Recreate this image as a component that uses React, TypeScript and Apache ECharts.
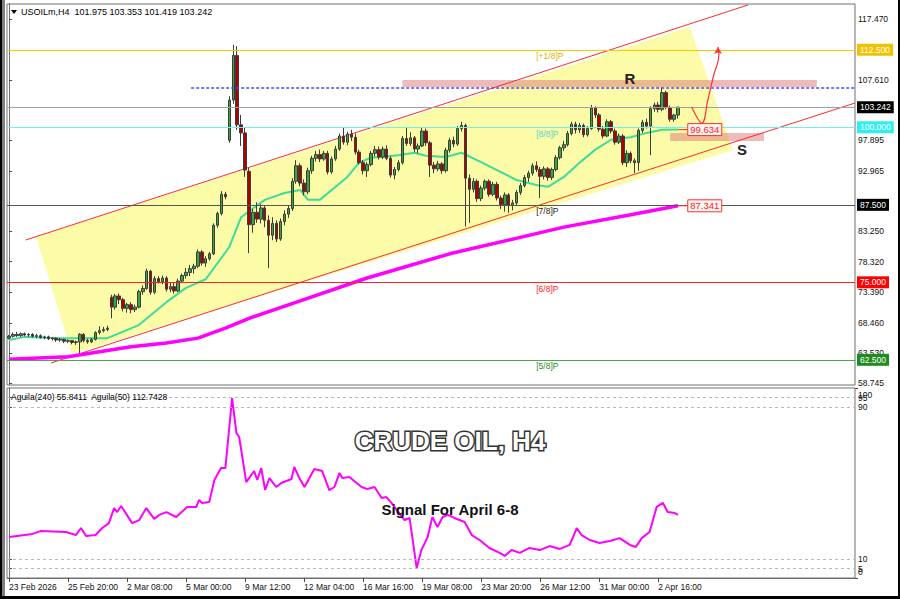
import React, { useEffect, useRef } from 'react';
import * as echarts from 'echarts';

// H4 candles, one per bar index: [open, close, low, high]
const candles: number[][] = [
  [66.0,66.3,65.8,66.5],[66.3,66.6,66.1,66.9],[66.6,66.4,66.2,67.0],[66.4,66.7,66.2,66.9],[66.7,66.5,66.3,66.9],
  [66.5,66.6,66.2,66.8],[66.6,66.3,66.1,66.8],[66.3,66.4,66.0,66.7],[66.4,66.1,65.9,66.6],[66.1,66.2,65.8,66.4],
  [66.2,65.9,65.7,66.4],[65.9,66.0,65.6,66.2],[66.0,65.7,65.4,66.1],[65.7,65.8,65.4,66.0],[65.8,65.5,65.2,65.9],
  [65.5,65.6,65.2,65.8],[65.6,65.3,65.0,65.7],[65.3,65.4,64.9,65.6],[65.4,66.6,63.6,66.8],[66.6,65.6,65.3,66.8],
  [65.6,65.4,65.1,65.9],[65.4,65.8,65.2,66.0],[65.8,66.9,65.6,67.1],[66.9,67.2,66.6,67.9],[67.2,67.4,66.9,67.8],
  [67.4,67.6,67.1,68.0],[72.6,71.0,69.2,73.0],[71.0,72.8,70.6,73.1],[72.8,72.2,71.5,73.2],[72.2,70.8,70.3,72.5],
  [70.8,71.4,70.1,71.7],[71.4,70.6,70.0,71.8],[70.6,71.0,70.2,71.4],[71.0,73.5,70.8,73.8],[73.5,74.0,73.0,74.5],
  [74.0,76.8,73.8,77.2],[76.8,73.4,73.0,77.0],[73.4,75.6,73.1,76.0],[75.6,75.1,74.8,76.0],[75.1,75.7,74.7,76.1],
  [75.7,73.9,73.5,76.0],[73.9,74.3,73.4,74.9],[74.3,73.6,73.2,75.0],[73.6,75.2,73.4,75.6],[75.2,76.1,74.9,76.4],
  [76.1,76.6,75.6,77.3],[76.6,77.2,76.0,77.8],[77.2,77.6,76.4,78.0],[77.6,79.9,77.3,80.3],[79.9,78.1,77.7,80.2],
  [78.1,78.8,77.5,79.2],[78.8,79.6,78.5,79.9],[79.6,84.2,79.4,84.5],[84.2,86.1,83.8,86.4],[86.1,89.2,85.8,89.7],
  [89.2,88.8,88.4,89.6],[97.9,104.4,97.5,105.0],[104.4,111.6,103.8,113.3],[111.6,100.4,99.6,113.1],[100.4,99.1,97.0,102.0],
  [99.1,93.1,92.0,100.0],[92.9,84.3,79.7,93.5],[84.3,86.3,83.0,86.8],[86.3,85.2,84.6,87.9],[85.2,87.0,84.5,87.6],
  [87.0,85.0,83.9,87.4],[85.0,82.6,77.3,85.8],[82.6,84.5,81.8,85.5],[84.5,82.0,81.5,85.0],[82.0,84.8,81.7,85.3],
  [84.8,86.0,84.2,86.6],[86.0,86.9,85.4,87.4],[86.9,91.3,86.5,91.8],[91.3,93.8,90.9,94.7],[93.8,91.0,90.5,94.2],
  [91.0,89.6,89.0,91.6],[89.6,93.0,89.2,93.5],[93.0,95.0,92.5,95.4],[95.0,95.6,94.5,96.2],[95.6,94.9,94.4,96.4],
  [94.9,95.8,94.6,96.2],[95.8,92.8,92.4,96.2],[92.8,94.9,92.5,95.3],[94.9,96.5,94.6,97.0],[96.5,98.6,96.2,99.0],
  [98.6,97.6,97.2,99.9],[97.6,98.9,97.1,99.3],[98.9,98.4,97.8,99.6],[98.4,96.0,95.6,99.0],[96.0,94.3,94.0,96.4],
  [94.3,93.0,92.4,94.7],[93.0,94.0,92.0,94.4],[94.0,95.8,93.7,96.2],[95.8,96.4,95.3,97.0],[96.4,95.2,94.8,96.9],
  [95.2,96.5,94.9,96.9],[96.5,95.0,94.7,97.1],[95.0,92.3,91.9,95.3],[92.3,93.2,91.6,93.6],[93.2,94.3,92.9,94.7],
  [94.3,98.2,94.0,98.6],[98.2,97.4,97.0,99.9],[97.4,98.3,97.0,99.2],[98.3,96.5,96.0,98.6],[96.5,97.0,95.8,97.4],
  [97.0,99.4,96.8,100.0],[99.4,97.5,97.0,99.8],[97.5,93.9,92.0,97.8],[93.9,93.3,92.6,94.4],[93.3,94.1,92.9,94.6],
  [94.1,93.0,92.5,94.4],[93.0,96.3,92.7,96.7],[96.3,97.9,95.9,98.3],[97.9,97.3,96.8,98.5],[97.3,99.8,97.0,100.2],
  [99.8,100.3,99.3,100.9],[100.3,91.8,84.0,100.6],[91.8,90.0,84.6,92.4],[90.0,91.3,89.5,91.8],[91.3,88.5,88.0,91.6],
  [88.5,90.2,88.1,90.6],[90.2,91.3,89.8,91.6],[91.3,89.2,88.8,91.6],[89.2,90.8,88.9,91.2],[90.8,88.6,88.2,91.2],
  [88.6,87.5,86.8,89.0],[87.5,89.1,86.4,89.5],[89.1,87.4,86.2,89.4],[87.4,87.8,86.6,88.3],[87.8,89.5,87.4,89.9],
  [89.5,90.6,89.1,91.0],[90.6,91.9,90.3,92.3],[91.9,92.6,91.2,93.0],[92.6,93.8,92.2,94.2],[93.8,93.2,92.8,94.5],
  [93.2,92.1,88.6,93.6],[92.1,93.3,91.6,93.7],[93.3,91.9,91.4,93.6],[91.9,93.2,91.5,93.5],[93.2,95.1,92.9,95.5],
  [95.1,96.7,94.8,97.0],[96.7,97.2,96.2,97.8],[97.2,99.0,96.9,99.4],[99.0,100.5,98.7,100.9],[100.5,99.6,99.0,100.9],
  [99.6,100.3,99.1,100.7],[100.3,98.8,98.4,100.6],[98.8,99.8,98.5,100.2],[99.8,103.1,99.6,103.6],[103.1,102.0,101.5,103.4],
  [102.0,99.7,99.3,102.3],[99.7,98.6,98.2,100.2],[98.6,100.9,98.4,101.3],[100.9,99.4,99.0,101.2],[99.4,97.6,97.2,99.8],
  [97.6,98.6,97.3,99.0],[98.6,94.3,93.9,98.9],[94.3,95.8,93.6,96.3],[95.8,94.6,94.2,96.1],[94.6,94.3,92.6,95.0],
  [94.3,99.5,93.0,99.8],[99.5,100.8,99.1,101.2],[100.8,100.2,99.8,101.4],[100.2,103.0,95.5,103.4],[103.0,103.6,102.5,104.0],
  [103.6,102.9,102.4,104.1],[102.9,105.6,102.6,106.5],[105.6,103.2,102.9,105.9],[103.2,101.3,100.9,103.5],[101.3,101.975,100.9,102.2],
  [101.975,103.242,101.419,103.353],
];

// moving averages, read as [bar index, price]
const tealMA: number[][] = [
  [0,65.7],[4,66.2],[13,66.0],[25,66.0],[33,68.1],[40,71.8],[45,74.1],[50,75.5],[53,78.1],[56,80.7],
  [59,85.5],[65,88.3],[70,89.4],[74,89.9],[76,88.3],[79,88.3],[82,89.9],[86,92.0],[89,94.3],[92,95.1],
  [99,95.5],[103,95.9],[106,95.4],[111,95.2],[115,95.9],[120,94.4],[124,93.1],[129,91.5],[134,90.7],[137,90.4],
  [141,92.0],[145,94.3],[149,96.4],[153,98.0],[158,98.4],[162,99.1],[166,99.6],[170,99.634],
];
const magentaMA: number[][] = [
  [0,62.6],[15,63.0],[23,63.8],[31,64.6],[40,65.2],[48,66.0],[55,67.6],[61,69.2],[74,72.0],[91,75.7],
  [112,79.6],[141,83.9],[158,85.9],[170,87.341],
];

// Aguila indicator, [bar index, value]
const aguila: number[][] = [
  [0,21.6],[6,23.2],[8,24.7],[14.5,24.2],[17,22.6],[18.3,26.3],[19.6,22.1],[22,22.6],[23.7,26.3],[25.4,28.9],
  [26.7,36.8],[27.5,34.7],[28.5,37.9],[31.3,28.9],[33.1,30.5],[34.9,36.8],[36.9,31.1],[38.2,33.2],[40,34.7],[42.5,32.1],
  [45.3,37.4],[47.6,37.4],[48.3,41.1],[49.1,39.5],[50.9,40],[52.2,51.6],[53.9,57.9],[55,57.9],[56.7,94.7],[57.8,76.3],
  [58.5,74.2],[60.3,50.5],[62.3,56.3],[63.1,51.6],[64.1,57.9],[65.1,46.3],[66.2,52.6],[67.9,47.9],[69.2,50],[71.8,52.1],
  [72.5,58.4],[73.8,52.6],[75.1,47.9],[77.6,57.4],[79.6,56.3],[81.4,46.3],[82.7,47.9],[84,55.3],[84.7,52.6],[86.5,53.2],
  [89.6,47.9],[91.1,46.8],[92.9,47.9],[94.7,42.1],[95.9,42.6],[97.2,39.5],[100.5,30.5],[101.8,31.6],[103.6,5.3],[104.8,14.7],
  [106.4,21.6],[107.6,32.1],[108.9,26.8],[110.2,32.1],[111.5,33.2],[113.2,31.6],[115.8,29.5],[117.6,22.6],[119.6,20],[122.1,15.8],
  [124.7,13.2],[126,11.6],[127.7,14.7],[129.8,13.2],[132.3,15.8],[134.9,14.7],[137.4,16.8],[140,15.3],[142.5,17.4],[144.3,26.3],
  [145.5,22.6],[147.6,20],[150.1,18.4],[152.7,19.5],[155.2,21],[157.8,17.4],[159.3,16.3],[160.8,21],[162.8,24.2],[164.6,37.4],
  [166.2,39.5],[167.4,34.7],[169.2,34.2],[170,33.2],
];

const timeTickIdx = [0, 15, 30, 45, 60, 75, 90, 105, 120, 135, 150, 165];
const timeTickLabels = ['23 Feb 2026', '25 Feb 20:00', '2 Mar 08:00', '5 Mar 00:00', '9 Mar 12:00', '12 Mar 04:00',
  '16 Mar 16:00', '19 Mar 08:00', '23 Mar 20:00', '26 Mar 12:00', '31 Mar 00:00', '2 Apr 16:00'];
const priceTicks = [117.47, 107.61, 97.895, 92.965, 83.25, 78.32, 73.39, 68.46, 63.53, 58.745];
const aguilaInnerTicks = [5, 10, 90, 95];
const aguilaEdgeTicks = [0, 100];
const aguilaLevels = [95, 90, 10, 5];

const levelPrices = [112.5, 103.242, 100, 87.5, 75, 62.5];
const levelTagColors = ['#f2c200', '#000000', '#2ef0f0', '#000000', '#ff0000', '#1f8c1f'];
const levelLineColors = ['#f5c800', '#9aa0b0', '#70f0f0', '#555555', '#ff2020', '#4aa84a'];

const murreyPrices = [112.5, 100, 87.5, 75, 62.5];
const murreyNames = ['[+1/8]P', '[8/8]P', '[7/8]P', '[6/8]P', '[5/8]P'];
const murreyColors = ['#e0b000', '#4fd6d0', '#222222', '#ff2020', '#2a8a2a'];

const channelUpper = [[4.3, 81.83], [187.8, 119.73]];
const channelLower = [[10.7, 61.99], [215, 103.92]];
const channelFill = [[6.9, 82.31], [173, 116.18], [184, 96.34], [16, 63.44]];
const resistanceZone = [100, 107.63, 205.3, 106.5];
const supportZone = [168, 99.1, 191.9, 97.8];
const resistanceDotted = [[46.3, 106.34], [215, 106.34]];
const forecastArrow = [[173.5, 103.28], [176.1, 100.7], [177.6, 104.41], [179.1, 108.44], [180.4, 111.66], [180.2, 112.95]];
const maTags = [99.634, 87.341];

const FONT = '"Liberation Sans", Arial, "DejaVu Sans", sans-serif';
const X_MIN = -0.5;
const X_MAX = 215;
const P_MIN = 58.44;
const P_MAX = 119.89;

function buildOption(): any {
  const labelMap: Record<number, string> = {};
  timeTickIdx.forEach((v, i) => { labelMap[v] = timeTickLabels[i]; });
  const lastArrow = forecastArrow.length - 1;
  const smallLabel = { fontSize: 8.5, color: '#111', fontFamily: FONT };

  return {
    animation: false,
    backgroundColor: '#ffffff',
    grid: [
      { left: 7, top: 4, width: 848, height: 381, show: true, borderColor: '#707070', borderWidth: 1 },
      { left: 7, top: 388, width: 848, height: 190, show: true, borderColor: '#707070', borderWidth: 1 },
    ],
    xAxis: [
      { gridIndex: 0, type: 'value', min: X_MIN, max: X_MAX, show: false },
      {
        gridIndex: 1, type: 'value', min: X_MIN, max: X_MAX,
        axisLine: { show: true, lineStyle: { color: '#707070' } },
        axisTick: { show: true, customValues: timeTickIdx, length: 4, lineStyle: { color: '#444' } },
        axisLabel: {
          ...smallLabel, customValues: timeTickIdx, formatter: (v: number) => labelMap[v] ?? '', align: 'left',
          margin: 4, showMinLabel: true, showMaxLabel: true,
        },
        splitLine: { show: false },
      },
    ],
    yAxis: [
      {
        gridIndex: 0, type: 'value', position: 'right', min: P_MIN, max: P_MAX,
        axisLine: { show: true, lineStyle: { color: '#707070' } },
        axisTick: { show: true, customValues: priceTicks, length: 3, lineStyle: { color: '#444' } },
        axisLabel: {
          ...smallLabel, customValues: priceTicks, formatter: (v: number) => v.toFixed(3),
          margin: 3, showMinLabel: true, showMaxLabel: true,
        },
        splitLine: { show: false },
      },
      {
        gridIndex: 1, type: 'value', position: 'right', min: 0, max: 100, offset: 0,
        axisLine: { show: true, lineStyle: { color: '#707070' } },
        axisTick: { show: true, customValues: aguilaInnerTicks, length: 3, lineStyle: { color: '#444' } },
        axisLabel: {
          ...smallLabel, customValues: aguilaInnerTicks, margin: 3, showMinLabel: true, showMaxLabel: true,
        },
        splitLine: { show: false },
      },
      {
        gridIndex: 1, type: 'value', position: 'right', min: 0, max: 100, offset: 0,
        axisLine: { show: false },
        axisTick: { show: true, customValues: aguilaEdgeTicks, length: 3, lineStyle: { color: '#444' } },
        axisLabel: {
          ...smallLabel, customValues: aguilaEdgeTicks, margin: 3, showMinLabel: true, showMaxLabel: true,
          formatter: (v: number) => (v === 100 ? '{d|100}' : '{u|0}'),
          rich: {
            d: { ...smallLabel, padding: [14, 0, 0, 0] },
            u: { ...smallLabel, padding: [0, 0, 12, 0] },
          },
        },
        splitLine: { show: false },
      },
    ],
    series: [
      {
        type: 'custom', name: 'channelFill', xAxisIndex: 0, yAxisIndex: 0, z: 1, silent: true, clip: true,
        data: [[0, 0]],
        renderItem: (_p: any, api: any) => ({
          type: 'polygon',
          shape: { points: channelFill.map((pt) => api.coord(pt)) },
          style: { fill: '#fbfba8' },
        }),
      },
      {
        type: 'custom', name: 'zones', xAxisIndex: 0, yAxisIndex: 0, z: 2, silent: true, clip: true,
        data: [resistanceZone, supportZone],
        renderItem: (_p: any, api: any) => {
          const a = api.coord([api.value(0), api.value(1)]);
          const b = api.coord([api.value(2), api.value(3)]);
          return {
            type: 'rect',
            shape: { x: a[0], y: a[1], width: b[0] - a[0], height: b[1] - a[1] },
            style: { fill: 'rgba(222,118,118,0.5)' },
          };
        },
      },
      {
        type: 'line', name: 'upper', xAxisIndex: 0, yAxisIndex: 0, data: channelUpper, symbol: 'none', z: 3,
        lineStyle: { color: '#ff2a2a', width: 1 }, silent: true,
      },
      {
        type: 'line', name: 'lower', xAxisIndex: 0, yAxisIndex: 0, data: channelLower, symbol: 'none', z: 3,
        lineStyle: { color: '#ff2a2a', width: 1 }, silent: true,
      },
      {
        type: 'line', name: 'ma240', xAxisIndex: 0, yAxisIndex: 0, data: magentaMA, symbol: 'none', z: 3,
        lineStyle: { color: '#ff00ff', width: 3.5 }, silent: true,
      },
      {
        type: 'line', name: 'ma21', xAxisIndex: 0, yAxisIndex: 0, data: tealMA, symbol: 'none', z: 3,
        lineStyle: { color: '#3ddc9c', width: 2 }, silent: true,
      },
      {
        type: 'candlestick', name: 'USOILm', xAxisIndex: 0, yAxisIndex: 0, z: 4,
        data: candles.map((c, i) => [i, c[0], c[1], c[2], c[3]]),
        encode: { x: 0, y: [1, 2, 3, 4] },
        barWidth: 3,
        itemStyle: { color: '#39a83a', color0: '#b00000', borderColor: '#3c3c3c', borderColor0: '#3c3c3c', borderWidth: 1 },
        markLine: {
          silent: true, symbol: ['none', 'none'], animation: false,
          data: [
            ...levelPrices.map((v, i) => ({
              yAxis: v,
              lineStyle: { color: levelLineColors[i], width: 1, type: 'solid' },
              label: {
                show: true, position: 'end', formatter: v.toFixed(3), color: '#fff',
                backgroundColor: levelTagColors[i], padding: [2, 3, 1, 3], fontSize: 8.5,
                fontFamily: FONT, distance: 2,
              },
            })),
            [
              { coord: resistanceDotted[0], lineStyle: { color: '#4a4aff', width: 1.5, type: [3, 2] }, label: { show: false } },
              { coord: resistanceDotted[1] },
            ],
          ],
        },
      },
      {
        type: 'custom', name: 'murrey', xAxisIndex: 0, yAxisIndex: 0, z: 5, silent: true,
        data: murreyPrices.map((v) => [134, v]),
        renderItem: (params: any, api: any) => {
          const p = api.coord([api.value(0), api.value(1)]);
          return {
            type: 'text', x: p[0], y: p[1] + 2,
            style: {
              text: murreyNames[params.dataIndex], fill: murreyColors[params.dataIndex],
              fontSize: 8.5, fontFamily: FONT, align: 'left', verticalAlign: 'top',
            },
          };
        },
      },
      {
        type: 'custom', name: 'maTags', xAxisIndex: 0, yAxisIndex: 0, z: 6, silent: true, clip: false,
        data: maTags.map((v) => [170, v]),
        renderItem: (_p: any, api: any) => {
          const p = api.coord([api.value(0), api.value(1)]);
          const q = api.coord([172.5, api.value(1)]);
          return {
            type: 'group',
            children: [
              { type: 'line', shape: { x1: p[0], y1: p[1], x2: q[0], y2: q[1] }, style: { stroke: '#ff3030', lineWidth: 1 } },
              { type: 'rect', shape: { x: q[0], y: q[1] - 6, width: 34, height: 12 }, style: { fill: '#fff4f4', stroke: '#ff3030', lineWidth: 1 } },
              {
                type: 'text', x: q[0] + 17, y: q[1],
                style: { text: api.value(1).toFixed(3), fill: '#ff2020', fontSize: 9.5, fontFamily: FONT, align: 'center', verticalAlign: 'middle' },
              },
            ],
          };
        },
      },
      {
        type: 'line', name: 'arrow', xAxisIndex: 0, yAxisIndex: 0, z: 6, silent: true, smooth: 0.4,
        symbol: 'none', showSymbol: true,
        data: forecastArrow.map((p, i) => (i === lastArrow ? { value: p, symbol: 'arrow', symbolSize: [6, 7] } : p)),
        lineStyle: { color: '#ff3030', width: 1.2 }, itemStyle: { color: '#ff3030' },
      },
      {
        type: 'line', name: 'aguila', xAxisIndex: 1, yAxisIndex: 1, data: aguila, symbol: 'none', z: 3,
        lineStyle: { color: '#ff00ff', width: 2 }, silent: true,
        markLine: {
          silent: true, symbol: ['none', 'none'], animation: false,
          data: aguilaLevels.map((v) => ({ yAxis: v })),
          lineStyle: { color: '#b8b8b8', type: [3, 3], width: 1 },
          label: { show: false },
        },
      },
    ],
    graphic: [
      { type: 'rect', z: 100, shape: { x: 0, y: 0, width: 2.5, height: 599 }, style: { fill: '#000' } },
      { type: 'rect', z: 100, shape: { x: 3.5, y: 0, width: 1, height: 599 }, style: { fill: '#000' } },
      { type: 'rect', z: 100, shape: { x: 0, y: 596, width: 900, height: 3 }, style: { fill: '#000' } },
      { type: 'rect', z: 100, shape: { x: 898, y: 0, width: 2, height: 599 }, style: { fill: '#000' } },
      { type: 'polygon', z: 100, shape: { points: [[11, 10], [17, 10], [14, 14]] }, style: { fill: '#000' } },
      {
        type: 'text', z: 100, x: 21, y: 12,
        style: { text: 'USOILm,H4  101.975 103.353 101.419 103.242', fill: '#000', fontSize: 9, fontFamily: FONT, verticalAlign: 'middle' },
      },
      {
        type: 'text', z: 100, x: 11, y: 397,
        style: { text: 'Aguila(240) 55.8411  Aguila(50) 112.7428', fill: '#000', fontSize: 8.5, fontFamily: FONT, verticalAlign: 'middle' },
      },
      {
        type: 'text', z: 100, x: 630, y: 78,
        style: { text: 'R', fill: '#222', fontSize: 15, fontWeight: 'bold', fontFamily: FONT, align: 'center', verticalAlign: 'middle',
          shadowColor: 'rgba(0,0,0,0.35)', shadowBlur: 2, shadowOffsetX: 1, shadowOffsetY: 1 },
      },
      {
        type: 'text', z: 100, x: 742, y: 149,
        style: { text: 'S', fill: '#222', fontSize: 15, fontWeight: 'bold', fontFamily: FONT, align: 'center', verticalAlign: 'middle',
          shadowColor: 'rgba(0,0,0,0.35)', shadowBlur: 2, shadowOffsetX: 1, shadowOffsetY: 1 },
      },
      {
        type: 'text', z: 100, x: 450, y: 441,
        style: { text: 'CRUDE OIL, H4', fill: '#ffffff', stroke: '#333333', lineWidth: 3, fontSize: 26, fontWeight: 'bold',
          fontFamily: FONT, align: 'center', verticalAlign: 'middle',
          shadowColor: 'rgba(0,0,0,0.6)', shadowBlur: 3, shadowOffsetX: 2, shadowOffsetY: 2 },
      },
      {
        type: 'text', z: 100, x: 450, y: 509,
        style: { text: 'Signal For April 6-8', fill: '#111111', fontSize: 15, fontWeight: 'bold',
          fontFamily: FONT, align: 'center', verticalAlign: 'middle',
          shadowColor: 'rgba(0,0,0,0.45)', shadowBlur: 2, shadowOffsetX: 1, shadowOffsetY: 1 },
      },
    ],
  };
}

export default function App() {
  const ref = useRef<HTMLDivElement>(null);
  useEffect(() => {
    if (!ref.current) return;
    const chart = echarts.init(ref.current, null, { renderer: 'svg' });
    chart.setOption(buildOption());
    return () => chart.dispose();
  }, []);
  return (
    <div
      ref={ref}
      style={{ position: 'fixed', left: 0, top: 0, width: 900, height: 599, background: '#fff' }}
    />
  );
}
